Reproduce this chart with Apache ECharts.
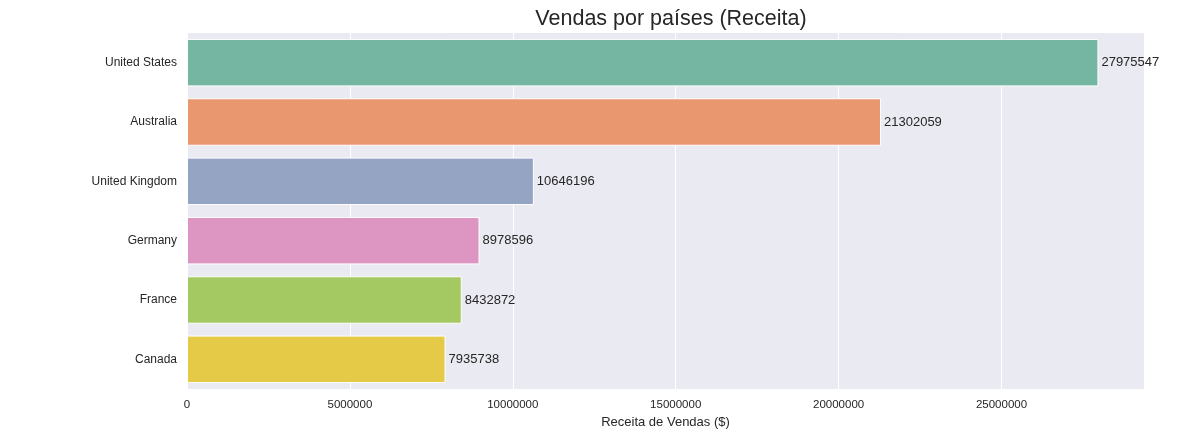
<!DOCTYPE html>
<html>
<head>
<meta charset="utf-8">
<script src="https://cdn.jsdelivr.net/npm/echarts@6/dist/echarts.min.js"></script>
<style>
  html, body { margin: 0; padding: 0; background: #fff; }
  #chart { width: 1178px; height: 440px; }
</style>
</head>
<body>
<div id="chart"></div>
<script>
const countries = ['United States', 'Australia', 'United Kingdom', 'Germany', 'France', 'Canada']
const revenue = [27975547, 21302059, 10646196, 8978596, 8432872, 7935738]
const barColors = ['#74B6A1', '#E9976F', '#96A4C3', '#DC96C1', '#A4C963', '#E5CA48']
const xTicks = [0, 5000000, 10000000, 15000000, 20000000, 25000000]

const font = '"Liberation Sans", Arial, sans-serif'
const chart = echarts.init(document.getElementById('chart'))

const option = {
  animation: false,
  textStyle: { fontFamily: font },
  title: {
    text: 'Vendas por países (Receita)',
    left: 666,
    textAlign: 'center',
    top: 3,
    textStyle: { fontFamily: font, fontSize: 21.5, fontWeight: 'normal', color: '#262626' }
  },
  grid: {
    left: 187,
    right: 34,
    top: 33,
    bottom: 51,
    show: true,
    backgroundColor: '#EAEAF2',
    borderWidth: 0
  },
  xAxis: {
    type: 'value',
    min: 0,
    max: Math.round(revenue[0] * 1.05),
    interval: xTicks[1] - xTicks[0],
    name: 'Receita de Vendas ($)',
    nameLocation: 'middle',
    nameGap: 26,
    nameTextStyle: { fontFamily: font, fontSize: 13, color: '#262626' },
    axisLine: { show: false },
    axisTick: { show: false },
    axisLabel: {
      showMaxLabel: false,
      margin: 10,
      fontSize: 11.5,
      color: '#262626',
      formatter: v => String(v)
    },
    splitLine: { show: true, lineStyle: { color: '#ffffff', width: 1 } }
  },
  yAxis: {
    type: 'category',
    data: countries,
    inverse: true,
    axisLine: { show: false },
    axisTick: { show: false },
    axisLabel: { margin: 10, fontSize: 12, color: '#262626' },
    splitLine: { show: false }
  },
  series: [
    {
      type: 'bar',
      barWidth: '80%',
      data: revenue.map((v, i) => ({
        value: v,
        itemStyle: { color: barColors[i], borderColor: '#ffffff', borderWidth: 1 }
      })),
      label: {
        show: true,
        position: 'right',
        distance: 3,
        fontSize: 13,
        color: '#262626',
        formatter: p => String(p.value)
      }
    }
  ]
}

chart.setOption(option)
window.addEventListener('resize', function() {
  chart.resize()
})
</script>
</body>
</html>
